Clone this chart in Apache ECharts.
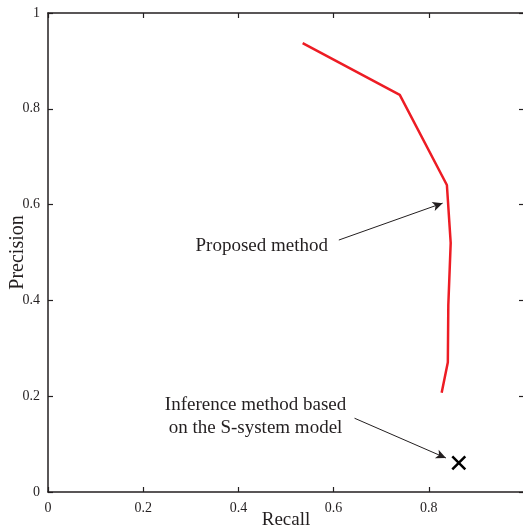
<!DOCTYPE html>
<html>
<head>
<meta charset="utf-8">
<script src="https://cdn.jsdelivr.net/npm/echarts@6/dist/echarts.min.js"></script>
<style>html,body{margin:0;padding:0;background:#fff;}#c{width:523px;height:527px;}</style>
</head>
<body>
<div id="c"></div>
<script>
// Data
const recall = [0.535, 0.739, 0.838, 0.846, 0.841, 0.840, 0.827];
const precision = [0.937, 0.829, 0.641, 0.520, 0.390, 0.271, 0.207];
const sRecall = [0.863];
const sPrecision = [0.061];
const xTicks = [0, 0.2, 0.4, 0.6, 0.8, 1];
const yTicks = [0, 0.2, 0.4, 0.6, 0.8, 1];
const labelTexts = ['Proposed method', 'Inference method based\non the S-system model'];
const labelPos = [[0.449, 0.514], [0.436, 0.158]];
const arrows = [[[0.611, 0.526], [0.829, 0.603]], [[0.644, 0.154], [0.836, 0.071]]];

const font = 'Liberation Serif';
const axisColor = '#231f20';
const fmt = v => (xTicks.indexOf(v) >= 0 || yTicks.indexOf(v) >= 0) ? String(v) : '';

const chart = echarts.init(document.getElementById('c'));
const baseAxis = {
  type: 'value', min: 0, max: 1, interval: 0.2,
  axisLine: {show: true, onZero: false, lineStyle: {color: axisColor, width: 1.5}},
  axisTick: {show: true, inside: true, length: 5, lineStyle: {color: axisColor, width: 1.2}},
  splitLine: {show: false},
  axisLabel: {fontFamily: font, fontSize: 14, color: '#231f20'}
};
chart.setOption({
  backgroundColor: '#fff',
  animation: false,
  grid: {left: 48, right: -1, top: 13, bottom: 35, containLabel: false, outerBoundsMode: 'none'},
  xAxis: [
    Object.assign({}, baseAxis, {position: 'bottom', name: 'Recall', nameLocation: 'middle', nameGap: 19,
      nameMoveOverlap: false,
      nameTextStyle: {fontFamily: font, fontSize: 19, color: '#231f20'},
      axisLabel: Object.assign({}, baseAxis.axisLabel, {margin: 9, showMaxLabel: false, formatter: fmt})}),
    Object.assign({}, baseAxis, {position: 'top', axisLabel: {show: false}})
  ],
  yAxis: [
    Object.assign({}, baseAxis, {position: 'left', name: 'Precision', nameLocation: 'middle', nameGap: 20,
      nameMoveOverlap: false,
      nameTextStyle: {fontFamily: font, fontSize: 20, color: '#231f20'},
      axisLabel: Object.assign({}, baseAxis.axisLabel, {margin: 8, formatter: fmt})}),
    Object.assign({}, baseAxis, {position: 'right', axisLabel: {show: false}})
  ],
  series: [
    {
      type: 'line', data: recall.map((r, i) => [r, precision[i]]),
      showSymbol: false, symbol: 'none',
      lineStyle: {color: '#ed1c24', width: 2.5}, z: 3
    },
    {
      type: 'scatter', data: sRecall.map((r, i) => [r, sPrecision[i]]),
      symbol: 'path://M0,0L10,10M10,0L0,10', symbolSize: 13,
      itemStyle: {color: 'none', borderColor: '#000', borderWidth: 2.5, opacity: 1}, z: 4
    },
    {
      type: 'scatter', symbolSize: 0,
      itemStyle: {opacity: 1},
      data: labelTexts.map((t, i) => ({value: labelPos[i], name: t})),
      label: {show: true, position: 'inside', formatter: p => p.name,
        fontFamily: font, fontSize: 19, color: '#231f20', lineHeight: 23, align: 'center', verticalAlign: 'middle'},
      markLine: {
        silent: true, animation: false,
        symbol: ['none', 'arrow'], symbolSize: [7, 10],
        lineStyle: {color: '#231f20', width: 1, type: 'solid'},
        label: {show: false},
        data: arrows.map(a => [{coord: a[0]}, {coord: a[1]}])
      }
    }
  ]
});
</script>
</body>
</html>
